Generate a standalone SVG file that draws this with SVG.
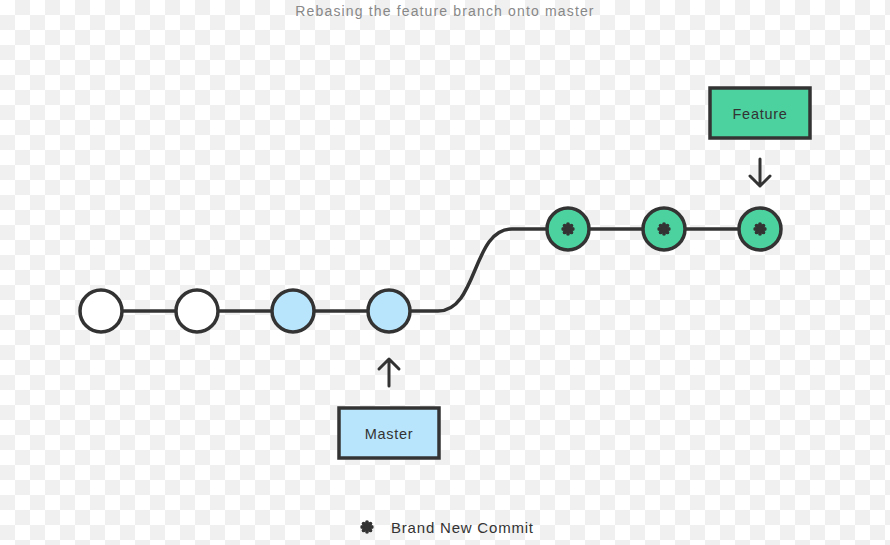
<svg xmlns="http://www.w3.org/2000/svg" xmlns:xlink="http://www.w3.org/1999/xlink" width="890" height="545" viewBox="0 0 890 545">
<style>
.edge{fill:none;stroke:#333;stroke-width:3.5;stroke-linecap:round}
.commit{stroke:#333;stroke-width:3.5}
.old{fill:#fff}
.master{fill:#b8e5fb}
.feat{fill:#4cd29f}
.label{font-family:"Liberation Sans",Arial,sans-serif;font-size:14.5px;fill:#333;letter-spacing:0.7px;text-anchor:middle}
.box{stroke:#333;stroke-width:3.5}
.arrow{fill:none;stroke:#333;stroke-width:3;stroke-linecap:round;stroke-linejoin:round}
</style>
<defs>
<pattern id="checker" width="30" height="30" patternUnits="userSpaceOnUse">
<rect width="30" height="30" fill="#fff"/>
<rect x="15" y="0" width="15" height="15" fill="#f0f0f0"/>
<rect x="0" y="15" width="15" height="15" fill="#f0f0f0"/>
</pattern>
<g id="star" fill="#333">
<circle r="4.3"/>
<circle cx="0" cy="-4.8" r="1.9"/>
<circle cx="0" cy="4.8" r="1.9"/>
<circle cx="-4.8" cy="0" r="1.9"/>
<circle cx="4.8" cy="0" r="1.9"/>
<circle cx="3.4" cy="3.4" r="1.9"/>
<circle cx="-3.4" cy="3.4" r="1.9"/>
<circle cx="3.4" cy="-3.4" r="1.9"/>
<circle cx="-3.4" cy="-3.4" r="1.9"/>
</g>
</defs>
<rect width="890" height="545" fill="url(#checker)"/>
<text x="445" y="16" font-family="Liberation Sans, Arial, sans-serif" font-size="14" fill="#888" letter-spacing="1.15" text-anchor="middle">Rebasing the feature branch onto master</text>
<g id="connectors">
<path class="edge" d="M122,311 H176 M218,311 H272 M314,311 H368"/>
<path class="edge" d="M410,311 H438 C478,311 472,229 512,229 H547"/>
<path class="edge" d="M589,229 H643 M685,229 H739"/>
<path class="arrow" d="M760,159 V186 M750,176 L760,186 L770,176"/>
<path class="arrow" d="M389,386 V359 M379,369 L389,359 L399,369"/>
</g>
<g id="c1"><circle class="commit old" cx="101" cy="311" r="21"/></g>
<g id="c2"><circle class="commit old" cx="197" cy="311" r="21"/></g>
<g id="c3"><circle class="commit master" cx="293" cy="311" r="21"/></g>
<g id="c4"><circle class="commit master" cx="389" cy="311" r="21"/></g>
<g id="f1"><circle class="commit feat" cx="568" cy="229" r="21"/><use xlink:href="#star" href="#star" x="568" y="229"/></g>
<g id="f2"><circle class="commit feat" cx="664" cy="229" r="21"/><use xlink:href="#star" href="#star" x="664" y="229"/></g>
<g id="f3"><circle class="commit feat" cx="760" cy="229" r="21"/><use xlink:href="#star" href="#star" x="760" y="229"/></g>
<g id="feature"><rect class="box feat" x="710" y="88" width="100" height="50"/><text class="label" x="760" y="119">Feature</text></g>
<g id="masterbox"><rect class="box master" x="339" y="408" width="100" height="50"/><text class="label" x="389" y="439">Master</text></g>
<g id="legend"><use xlink:href="#star" href="#star" x="367" y="527"/><text x="391" y="533" font-family="Liberation Sans, Arial, sans-serif" font-size="15" fill="#333" letter-spacing="0.8">Brand New Commit</text></g>
</svg>
